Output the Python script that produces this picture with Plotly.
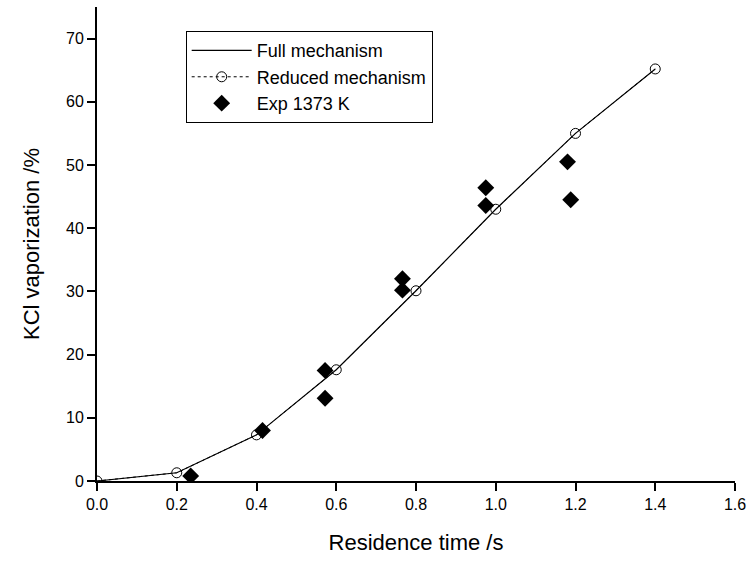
import plotly.graph_objects as go

# Model predictions
model_t = [0.0, 0.2, 0.4, 0.6, 0.8, 1.0, 1.2, 1.4]
full_mech = [0.0, 1.3, 7.3, 17.6, 30.1, 43.0, 55.0, 65.2]
reduced_mech = [0.0, 1.3, 7.3, 17.6, 30.1, 43.0, 55.0, 65.2]

# Experimental data
exp_t = [0.235, 0.415, 0.572, 0.572, 0.766, 0.766, 0.975, 0.975, 1.180, 1.188]
exp_v = [0.8, 8.0, 17.5, 13.1, 32.0, 30.2, 46.4, 43.6, 50.5, 44.5]

x_ticks = [0.0, 0.2, 0.4, 0.6, 0.8, 1.0, 1.2, 1.4, 1.6]
x_tick_text = ["0.0", "0.2", "0.4", "0.6", "0.8", "1.0", "1.2", "1.4", "1.6"]
y_ticks = [0, 10, 20, 30, 40, 50, 60, 70]

FONT = "Arial, Liberation Sans, sans-serif"

fig = go.Figure()
fig.add_trace(go.Scatter(
    x=model_t, y=full_mech, mode="lines", name="Full mechanism",
    line=dict(color="black", width=1.2),
))
fig.add_trace(go.Scatter(
    x=model_t, y=reduced_mech, mode="lines+markers", name="Reduced mechanism",
    line=dict(color="black", width=1, dash="dot"),
    marker=dict(symbol="circle-open", size=10, color="black", line=dict(width=1)),
))
fig.add_trace(go.Scatter(
    x=exp_t, y=exp_v, mode="markers", name="Exp 1373 K",
    marker=dict(symbol="diamond", size=13, color="black"),
))

fig.update_layout(
    width=753, height=563,
    margin=dict(l=97, r=16, t=7, b=82),
    paper_bgcolor="white", plot_bgcolor="white",
    font=dict(family=FONT, size=16, color="black"),
    showlegend=True,
    legend=dict(
        x=0.139, y=0.949, xanchor="left", yanchor="top",
        bordercolor="black", borderwidth=1, bgcolor="white",
        font=dict(size=18, family=FONT),
        itemwidth=60, tracegroupgap=0,
    ),
    xaxis=dict(
        range=[0, 1.6], tickvals=x_ticks, ticktext=x_tick_text,
        showgrid=False, zeroline=False, showline=True, linecolor="black", linewidth=2,
        ticks="outside", ticklen=8, tickwidth=1.5, tickcolor="black",
        tickfont=dict(size=16),
        title=dict(text="Residence time /s", font=dict(size=22), standoff=22),
    ),
    yaxis=dict(
        range=[0, 75], tickvals=y_ticks,
        showgrid=False, zeroline=False, showline=True, linecolor="black", linewidth=2,
        ticks="outside", ticklen=8, tickwidth=1.5, tickcolor="black",
        tickfont=dict(size=16),
        title=dict(text="KCl vaporization /%", font=dict(size=22), standoff=20),
    ),
)

fig.write_html("out.html")
